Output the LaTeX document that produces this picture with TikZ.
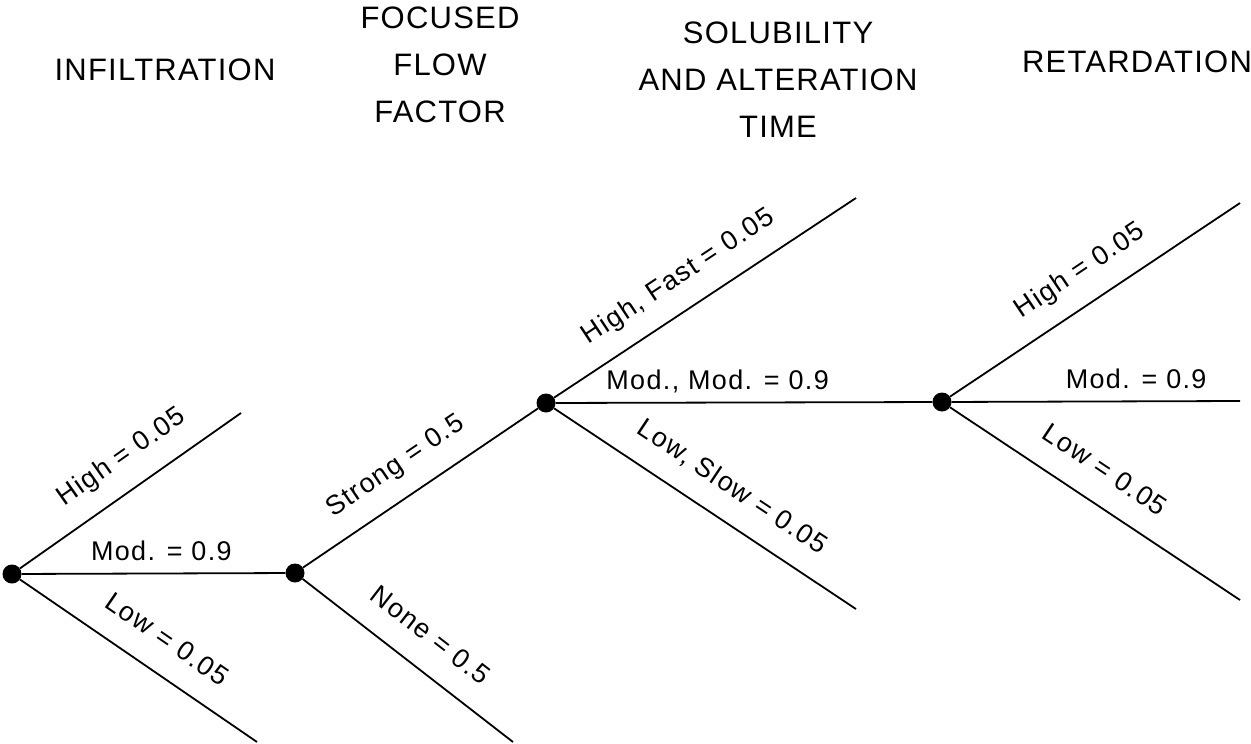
\documentclass[tikz,border=0pt]{standalone}
\usepackage{fontspec}
\setmainfont{Liberation Sans}
\newfontfamily\hdrfont[LetterSpace=4]{Liberation Sans}
\newfontfamily\lblfont[LetterSpace=5]{Liberation Sans}
\begin{document}
\begin{tikzpicture}[x=1pt,y=-1pt,
  dot/.style={circle,fill=black,inner sep=0pt,minimum size=19pt},
  branch/.style={line width=1.8pt},
  hdr/.style={font=\hdrfont\fontsize{31}{47}\selectfont,align=center,inner sep=0pt},
  lblbase/.style={font=\lblfont\fontsize{27}{30}\selectfont,sloped,inner sep=0pt,text depth=0pt},
  lbl/.style={lblbase,above=24pt},
  hlbl/.style={lblbase,above=12pt}]
\useasboundingbox[fill=white] (0,0) rectangle (1251,744);
% headers
\node[hdr] (h1) at (165,70) {INFILTRATION};
\node[hdr] (h2) at (440,65) {FOCUSED\\FLOW\\FACTOR};
\node[hdr] (h3) at (778,80) {SOLUBILITY\\AND ALTERATION\\TIME};
\node[hdr] (h4) at (1137,62) {RETARDATION};
% decision nodes
\node[dot] (A) at (12,574) {};
\node[dot] (B) at (295,573) {};
\node[dot] (C) at (546,403) {};
\node[dot] (D) at (942,402) {};
% leaf ends
\coordinate (a1) at (241,413);
\coordinate (a3) at (257,742);
\coordinate (b2) at (513,742);
\coordinate (c1) at (856,198);
\coordinate (c3) at (856,609);
\coordinate (d1) at (1240,203);
\coordinate (d2) at (1240,401);
\coordinate (d3) at (1240,600);
% branches
\draw[branch] (A) -- node[lbl,pos=0.545] {High = 0.05} (a1);
\draw[branch] (A) -- node[hlbl,pos=0.53] {Mod. = 0.9} (B);
\draw[branch] (A) -- node[lbl,pos=0.54] {Low = 0.05} (a3);
\draw[branch] (B) -- node[lbl,pos=0.47] {Strong = 0.5} (C);
\draw[branch] (B) -- node[lbl,pos=0.51] {None = 0.5} (b2);
\draw[branch] (C) -- node[lbl,pos=0.47] {High, Fast = 0.05} (c1);
\draw[branch] (C) -- node[hlbl,pos=0.43] {Mod., Mod. = 0.9} (D);
\draw[branch] (C) -- node[lbl,pos=0.53] {Low, Slow = 0.05} (c3);
\draw[branch] (D) -- node[lbl,pos=0.51] {High = 0.05} (d1);
\draw[branch] (D) -- node[hlbl,pos=0.64] {Mod. = 0.9} (d2);
\draw[branch] (D) -- node[lbl,pos=0.47] {Low = 0.05} (d3);
\end{tikzpicture}
\end{document}
